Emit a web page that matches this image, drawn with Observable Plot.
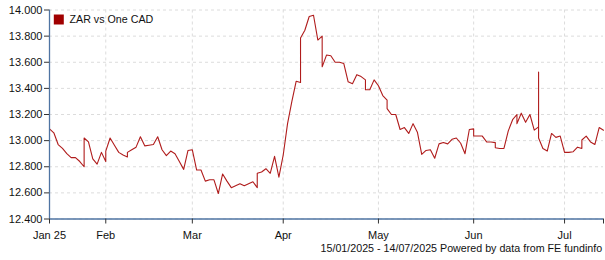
<!DOCTYPE html>
<html><head><meta charset="utf-8">
<script src="https://cdn.jsdelivr.net/npm/d3@7"></script>
<script src="https://cdn.jsdelivr.net/npm/@observablehq/plot@0.6"></script>
<style>html,body{margin:0;padding:0;background:#fff;} #chart svg{display:block;}</style>
</head><body><div id="chart"></div>
<script>
const seriesName = "ZAR vs One CAD";
const captionText = "15/01/2025 - 14/07/2025 Powered by data from FE fundinfo";
const startDate = "2025-01-15";
const dates = [
"2025-01-15","2025-01-16","2025-01-17","2025-01-20","2025-01-21","2025-01-22","2025-01-23","2025-01-24","2025-01-26","2025-01-27",
"2025-01-28","2025-01-29","2025-01-30","2025-01-31","2025-02-02","2025-02-03","2025-02-04","2025-02-05","2025-02-06","2025-02-07",
"2025-02-09","2025-02-10","2025-02-11","2025-02-12","2025-02-13","2025-02-14","2025-02-17","2025-02-18","2025-02-19","2025-02-20",
"2025-02-21","2025-02-24","2025-02-25","2025-02-26","2025-02-27","2025-02-28","2025-03-03","2025-03-04","2025-03-05","2025-03-06",
"2025-03-07","2025-03-10","2025-03-11","2025-03-12","2025-03-13","2025-03-14","2025-03-17","2025-03-18","2025-03-19","2025-03-20",
"2025-03-21","2025-03-23","2025-03-24","2025-03-25","2025-03-26","2025-03-27","2025-03-28","2025-03-31","2025-04-01","2025-04-02",
"2025-04-03","2025-04-04","2025-04-06","2025-04-07","2025-04-08","2025-04-09","2025-04-10","2025-04-11","2025-04-13","2025-04-14",
"2025-04-15","2025-04-16","2025-04-17","2025-04-18","2025-04-21","2025-04-22","2025-04-23","2025-04-24","2025-04-25","2025-04-27",
"2025-04-28","2025-04-29","2025-04-30","2025-05-01","2025-05-02","2025-05-04","2025-05-05","2025-05-06","2025-05-07","2025-05-08",
"2025-05-09","2025-05-12","2025-05-13","2025-05-14","2025-05-15","2025-05-16","2025-05-19","2025-05-20","2025-05-21","2025-05-22",
"2025-05-23","2025-05-26","2025-05-27","2025-05-28","2025-05-29","2025-05-30","2025-06-01","2025-06-02","2025-06-03","2025-06-04",
"2025-06-05","2025-06-06","2025-06-08","2025-06-09","2025-06-10","2025-06-11","2025-06-12","2025-06-13","2025-06-15","2025-06-16",
"2025-06-17","2025-06-18","2025-06-19","2025-06-20","2025-06-21","2025-06-22","2025-06-23","2025-06-24","2025-06-25","2025-06-26",
"2025-06-27","2025-06-30","2025-07-01","2025-07-02","2025-07-03","2025-07-04","2025-07-06","2025-07-07","2025-07-08","2025-07-09",
"2025-07-10","2025-07-11","2025-07-14"
];
const rates = [
13.09,13.06,12.97,12.94,12.90,12.87,12.87,12.84,12.80,13.02,
12.99,12.86,12.82,12.91,12.84,12.92,13.02,12.965,12.91,12.89,
12.875,12.91,12.93,12.95,13.03,12.96,12.965,12.97,13.03,12.93,
12.885,12.92,12.90,12.84,12.78,12.925,12.93,12.775,12.775,12.69,
12.70,12.70,12.595,12.745,12.69,12.64,12.655,12.67,12.655,12.67,
12.685,12.64,12.75,12.76,12.785,12.75,12.88,12.72,12.89,13.13,
13.30,13.455,13.445,13.785,13.845,13.95,13.96,13.77,13.80,13.565,
13.655,13.65,13.60,13.60,13.59,13.45,13.435,13.505,13.49,13.465,
13.39,13.39,13.465,13.42,13.345,13.31,13.245,13.20,13.20,13.085,
13.10,13.055,13.13,13.065,12.895,12.925,12.93,12.865,12.975,12.985,
12.975,13.01,13.02,12.98,12.90,13.085,13.09,13.035,13.035,13.035,
12.99,12.99,12.985,12.945,12.94,12.94,13.075,13.16,13.20,13.13,
13.21,13.14,13.20,13.08,13.105,13.525,13.02,12.94,12.92,13.055,
13.025,13.035,12.91,12.91,12.915,12.95,12.94,13.005,13.035,12.99,
12.97,13.10,13.08
];
const endDate = "2025-07-14";
const monthTickDates = ["2025-01-15","2025-02-03","2025-03-03","2025-04-01","2025-05-01","2025-06-02","2025-07-01"];
const monthTickLabels = ["Jan 25","Feb","Mar","Apr","May","Jun","Jul"];
const yTicks = [12.4,12.6,12.8,13.0,13.2,13.4,13.6,13.8,14.0];

// position on a trading-day axis: weekend values collapse onto the following Monday
function tradingPos(iso) {
  const t0 = new Date(startDate + "T00:00:00Z");
  const t1 = new Date(iso + "T00:00:00Z");
  let n = 0;
  for (let d = new Date(t0); d < t1; d.setUTCDate(d.getUTCDate() + 1)) {
    const wd = d.getUTCDay();
    if (wd !== 0 && wd !== 6) n++;
  }
  return n;
}

const data = dates.map((d, k) => ({pos: tradingPos(d), rate: rates[k]}));
const tickPos = monthTickDates.map(tradingPos);
const endPos = tradingPos(endDate);
const labelByPos = new Map(tickPos.map((p, i) => [p, monthTickLabels[i]]));

const axisColor = "#4f74a3";
const lineColor = "#b01c1c";
const gridColor = "#dcdcdc";
const font = "Arial, 'Liberation Sans', sans-serif";

const chart = Plot.plot({
  width: 605,
  height: 260,
  marginTop: 9.5,
  marginBottom: 41.5,
  marginLeft: 49,
  marginRight: 2,
  style: {fontFamily: font, fontSize: "11px", color: "#111", background: "#fff"},
  x: {type: "linear", domain: [0, endPos]},
  y: {domain: [12.4, 14.0]},
  marks: [
    Plot.gridY(yTicks, {stroke: gridColor, strokeOpacity: 1, strokeDasharray: "3,3"}),
    Plot.gridX(tickPos.slice(1), {stroke: gridColor, strokeOpacity: 1, strokeDasharray: "3,3"}),
    Plot.line(data, {x: "pos", y: "rate", stroke: lineColor, strokeWidth: 1.1}),
    Plot.ruleX([0], {stroke: axisColor, strokeWidth: 1.3}),
    Plot.ruleY([12.4], {stroke: axisColor, strokeWidth: 1.3}),
    Plot.axisY(yTicks, {tickFormat: d3.format(".3f"), tickSize: 5, tickPadding: 2, fontSize: 11, stroke: "#333", fill: "#111", label: null}),
    Plot.axisX([...tickPos, endPos], {tickFormat: d => labelByPos.get(d) ?? "", tickSize: 5, tickPadding: 6.7, fontSize: 11, stroke: "#333", fill: "#111", label: null}),
    Plot.dot([seriesName], {frameAnchor: "top-left", dx: 9.3, dy: 9.5, symbol: "square", r: 5.64, fill: "#a00000", stroke: "none"}),
    Plot.text([seriesName], {text: d => d, frameAnchor: "top-left", dx: 20, dy: 9.5, textAnchor: "start", lineAnchor: "middle", fontSize: 10.7, fill: "#111"}),
    Plot.text([captionText], {text: d => d, frameAnchor: "bottom-right", dx: -1.3, dy: 33, textAnchor: "end", lineAnchor: "bottom", fontSize: 10.7, fill: "#111"})
  ]
});
document.getElementById("chart").appendChild(chart);
</script>
</body></html>
